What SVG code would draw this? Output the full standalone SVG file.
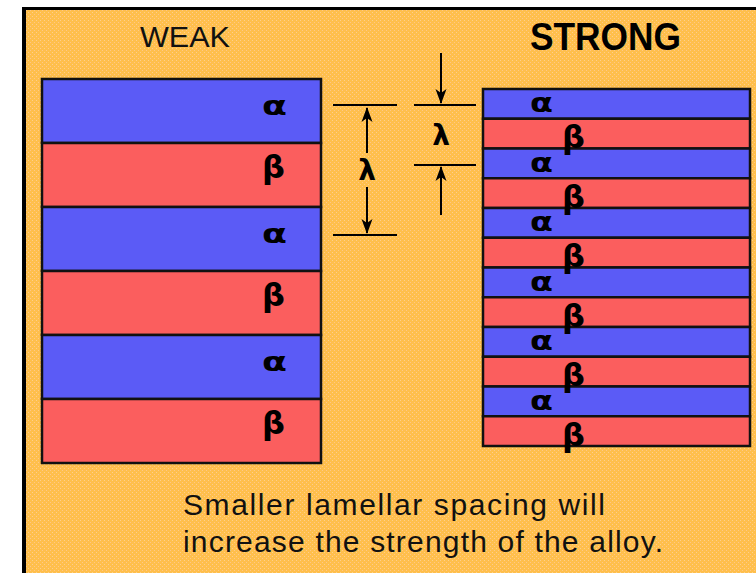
<svg xmlns="http://www.w3.org/2000/svg" width="756" height="573" viewBox="0 0 756 573">
  <defs>
    <pattern id="dither" width="4" height="4" patternUnits="userSpaceOnUse">
      <rect width="4" height="4" fill="#FFBF4C"/>
      <rect x="0" y="0" width="1" height="1" fill="#FFCF8C"/>
      <rect x="2" y="2" width="1" height="1" fill="#FFC78A"/>
    </pattern>
    <marker id="arr" viewBox="0 0 16 12" refX="15" refY="6" markerWidth="16" markerHeight="12" markerUnits="userSpaceOnUse" orient="auto">
      <path d="M16,6 L1,0.5 L5,6 L1,11.5 Z" fill="#000"/>
    </marker>
  </defs>
  <style>
    .alpha { fill: #5B5BF6; stroke: #111; stroke-width: 2.5; }
    .beta { fill: #FB5E5E; stroke: #111; stroke-width: 2.5; }
    .gk { font-family: "DejaVu Sans", sans-serif; font-weight: bold; fill: #000; }
    .ga { font-size: 26px; }
    .gb { font-size: 32px; }
    .gl { font-size: 28px; text-anchor: middle; }
    .dim { stroke: #000; stroke-width: 2; fill: none; }
    .cap { font-family: "Liberation Sans", Arial, sans-serif; font-size: 30px; fill: #111; }
  </style>

  <rect width="756" height="573" fill="#FFFFFF"/>
  <g id="frame">
    <rect x="22" y="7" width="734" height="566" fill="url(#dither)"/>
    <line x1="24" y1="7" x2="24" y2="573" stroke="#000" stroke-width="4"/>
    <line x1="22" y1="8.5" x2="756" y2="8.5" stroke="#000" stroke-width="3"/>
  </g>

  <g id="title-weak">
    <text class="cap" x="140" y="47" font-size="31" textLength="90" lengthAdjust="spacingAndGlyphs">WEAK</text>
  </g>
  <g id="title-strong">
    <text x="530" y="50" font-family="Liberation Sans, Arial, sans-serif" font-weight="bold" font-size="39" fill="#000" textLength="151" lengthAdjust="spacingAndGlyphs">STRONG</text>
  </g>

  <g id="weak-stack">
    <rect class="alpha" x="42" y="79" width="279" height="64"/>
    <rect class="beta" x="42" y="143" width="279" height="64"/>
    <rect class="alpha" x="42" y="207" width="279" height="64"/>
    <rect class="beta" x="42" y="271" width="279" height="64"/>
    <rect class="alpha" x="42" y="335" width="279" height="64"/>
    <rect class="beta" x="42" y="399" width="279" height="64"/>
    <text class="gk ga" x="262" y="115" textLength="25" lengthAdjust="spacingAndGlyphs">α</text>
    <text class="gk gb" x="262" y="178">β</text>
    <text class="gk ga" x="262" y="243" textLength="25" lengthAdjust="spacingAndGlyphs">α</text>
    <text class="gk gb" x="262" y="306">β</text>
    <text class="gk ga" x="262" y="371" textLength="25" lengthAdjust="spacingAndGlyphs">α</text>
    <text class="gk gb" x="262" y="434">β</text>
  </g>

  <g id="strong-stack">
    <rect class="alpha" x="483" y="89" width="267" height="29.75"/>
    <rect class="beta" x="483" y="118.75" width="267" height="29.75"/>
    <rect class="alpha" x="483" y="148.5" width="267" height="29.75"/>
    <rect class="beta" x="483" y="178.25" width="267" height="29.75"/>
    <rect class="alpha" x="483" y="208" width="267" height="29.75"/>
    <rect class="beta" x="483" y="237.75" width="267" height="29.75"/>
    <rect class="alpha" x="483" y="267.5" width="267" height="29.75"/>
    <rect class="beta" x="483" y="297.25" width="267" height="29.75"/>
    <rect class="alpha" x="483" y="327" width="267" height="29.75"/>
    <rect class="beta" x="483" y="356.75" width="267" height="29.75"/>
    <rect class="alpha" x="483" y="386.5" width="267" height="29.75"/>
    <rect class="beta" x="483" y="416.25" width="267" height="29.75"/>
    <text class="gk ga" x="530" y="112" textLength="23" lengthAdjust="spacingAndGlyphs">α</text>
    <text class="gk gb" x="562" y="148">β</text>
    <text class="gk ga" x="530" y="171.5" textLength="23" lengthAdjust="spacingAndGlyphs">α</text>
    <text class="gk gb" x="562" y="207.5">β</text>
    <text class="gk ga" x="530" y="231" textLength="23" lengthAdjust="spacingAndGlyphs">α</text>
    <text class="gk gb" x="562" y="267">β</text>
    <text class="gk ga" x="530" y="290.5" textLength="23" lengthAdjust="spacingAndGlyphs">α</text>
    <text class="gk gb" x="562" y="326.5">β</text>
    <text class="gk ga" x="530" y="350" textLength="23" lengthAdjust="spacingAndGlyphs">α</text>
    <text class="gk gb" x="562" y="386">β</text>
    <text class="gk ga" x="530" y="409.5" textLength="23" lengthAdjust="spacingAndGlyphs">α</text>
    <text class="gk gb" x="562" y="445.5">β</text>
  </g>

  <g id="connectors">
    <line class="dim" x1="333" y1="105" x2="397" y2="105"/>
    <line class="dim" x1="333" y1="235" x2="397" y2="235"/>
    <line class="dim" x1="367" y1="153" x2="367" y2="108" marker-end="url(#arr)"/>
    <line class="dim" x1="367" y1="187" x2="367" y2="233" marker-end="url(#arr)"/>
    <line class="dim" x1="414" y1="105" x2="476" y2="105"/>
    <line class="dim" x1="414" y1="165" x2="476" y2="165"/>
    <line class="dim" x1="441" y1="53" x2="441" y2="103" marker-end="url(#arr)"/>
    <line class="dim" x1="441" y1="215" x2="441" y2="167" marker-end="url(#arr)"/>
  </g>
  <g id="lambda-labels">
    <text class="gk gl" x="367" y="180">λ</text>
    <text class="gk gl" x="441" y="145">λ</text>
  </g>

  <g id="caption">
    <text class="cap" x="183" y="515" textLength="422" lengthAdjust="spacing">Smaller lamellar spacing will</text>
    <text class="cap" x="183" y="552" textLength="480" lengthAdjust="spacing">increase the strength of the alloy.</text>
  </g>
</svg>
